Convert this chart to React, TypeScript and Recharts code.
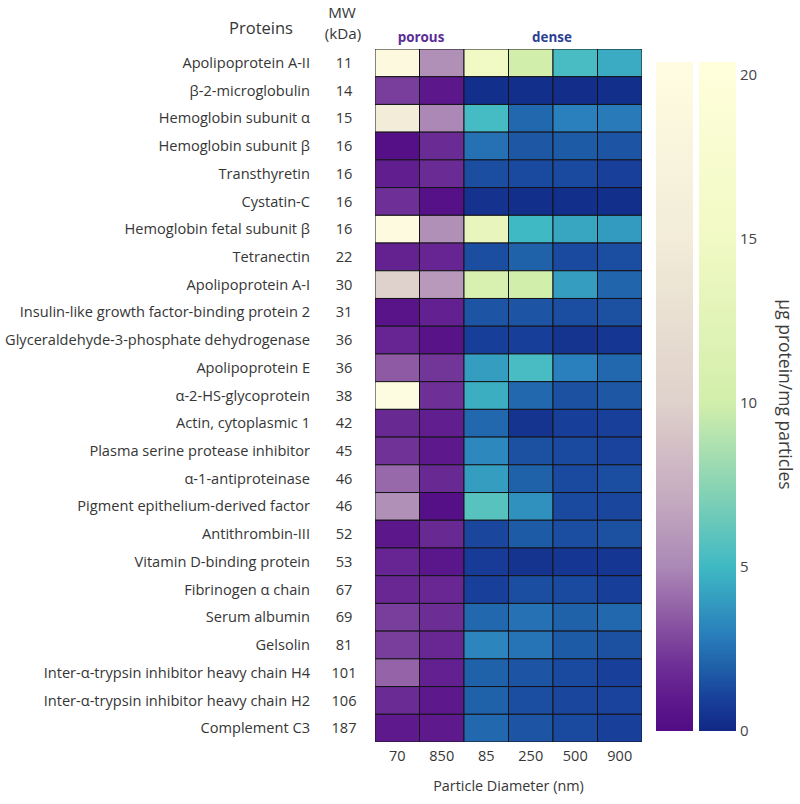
import { ScatterChart, Scatter, XAxis, YAxis, BarChart, Bar, Cell, Label, Customized } from 'recharts';

const proteins = [
  'Apolipoprotein A-II',
  'β-2-microglobulin',
  'Hemoglobin subunit α',
  'Hemoglobin subunit β',
  'Transthyretin',
  'Cystatin-C',
  'Hemoglobin fetal subunit β',
  'Tetranectin',
  'Apolipoprotein A-I',
  'Insulin-like growth factor-binding protein 2',
  'Glyceraldehyde-3-phosphate dehydrogenase',
  'Apolipoprotein E',
  'α-2-HS-glycoprotein',
  'Actin, cytoplasmic 1',
  'Plasma serine protease inhibitor',
  'α-1-antiproteinase',
  'Pigment epithelium-derived factor',
  'Antithrombin-III',
  'Vitamin D-binding protein',
  'Fibrinogen α chain',
  'Serum albumin',
  'Gelsolin',
  'Inter-α-trypsin inhibitor heavy chain H4',
  'Inter-α-trypsin inhibitor heavy chain H2',
  'Complement C3',
];
const mw = [11, 14, 15, 16, 16, 16, 16, 22, 30, 31, 36, 36, 38, 42, 45, 46, 46, 52, 53, 67, 69, 81, 101, 106, 187];
const diameters = ['70', '850', '85', '250', '500', '900'];

// µg protein / mg particles, one array per particle type
const porous70 = [19, 2.5, 15, 0.3, 1.2, 2.0, 19.5, 1.4, 10, 0.6, 1.5, 3.5, 20, 1.7, 2.1, 4.0, 5.5, 0.8, 1.5, 1.6, 2.5, 2.5, 3.8, 1.8, 1.0];
const porous850 = [5.5, 0.8, 5, 1.8, 1.8, 0.4, 5.5, 1.5, 6, 1.3, 0.5, 2.2, 2.0, 1.2, 0.9, 1.7, 0.3, 1.7, 0.7, 1.6, 1.9, 1.6, 1.3, 0.9, 1.0];
const dense85 = [15, 0.3, 5.2, 2.5, 1.4, 0.4, 13.5, 1.4, 11, 1.6, 0.9, 4.0, 4.6, 2.2, 3.3, 4.0, 5.8, 1.2, 0.8, 1.0, 2.2, 3.2, 2.0, 2.0, 2.2];
const dense250 = [10, 0.3, 2.2, 1.7, 1.3, 0.3, 5, 2.0, 10, 1.6, 0.9, 5.3, 2.2, 0.5, 1.5, 2.0, 3.6, 1.8, 0.5, 1.4, 2.5, 2.6, 1.6, 1.4, 1.6];
const dense500 = [5.3, 0.2, 3, 1.8, 1.3, 0.3, 4.3, 1.3, 4.0, 1.4, 0.5, 3.0, 1.5, 0.9, 1.3, 1.3, 1.3, 1.4, 0.6, 1.3, 2.0, 1.8, 1.3, 1.2, 1.3];
const dense900 = [4.5, 0.3, 2.8, 1.6, 1.0, 0.3, 3.9, 1.4, 2.1, 1.5, 0.6, 2.2, 1.7, 1.0, 1.1, 1.4, 1.2, 1.5, 0.6, 0.9, 2.2, 1.5, 1.0, 1.1, 1.0];
const columns = [porous70, porous850, dense85, dense250, dense500, dense900];

const cbTicks = [0, 5, 10, 15, 20];
const CB_MAX = 20.4;

// colour maps: [value, colour]
const purpleStops: [number, string][] = [
  [0, '#520b85'], [1, '#5e1a8d'], [2, '#6e2f96'], [3.5, '#8e5aa4'], [5, '#ab88b6'],
  [7, '#c4a9bf'], [10, '#dfd1cb'], [15, '#f2ecd8'], [20.4, '#fffde1'],
];
const blueStops: [number, string][] = [
  [0, '#112886'], [1, '#18409a'], [2, '#2062aa'], [3, '#2a80bc'], [5, '#3fb9c4'],
  [7, '#7ccfb6'], [10, '#d2eeab'], [15, '#f1f9c4'], [20.4, '#ffffdc'],
];

const hex = (c: string) => [1, 3, 5].map((i) => parseInt(c.slice(i, i + 2), 16));
function colorAt(stops: [number, string][], v: number) {
  if (v <= stops[0][0]) return stops[0][1];
  for (let i = 1; i < stops.length; i++) {
    if (v <= stops[i][0]) {
      const [v0, c0] = stops[i - 1];
      const [v1, c1] = stops[i];
      const t = (v - v0) / (v1 - v0);
      const a = hex(c0);
      const b = hex(c1);
      return `rgb(${a.map((x, k) => Math.round(x + (b[k] - x) * t)).join(',')})`;
    }
  }
  return stops[stops.length - 1][1];
}

const cells = columns.flatMap((col, c) =>
  col.map((v, r) => ({ x: c, y: r, v, porous: c < 2 }))
);

const W = 800;
const H = 804;
const PLOT = { left: 375, top: 49, right: 642, bottom: 742 };
const CELL_W = (PLOT.right - PLOT.left) / diameters.length;
const CELL_H = (PLOT.bottom - PLOT.top) / proteins.length;
const FONT = '"Open Sans", sans-serif';

const HeatCell = (props: any) => {
  const { cx, cy, payload } = props;
  return (
    <rect
      x={cx - CELL_W / 2}
      y={cy - CELL_H / 2}
      width={CELL_W}
      height={CELL_H}
      fill={colorAt(payload.porous ? purpleStops : blueStops, payload.v)}
      stroke="#141418"
      strokeWidth={1}
    />
  );
};

const ProteinTick = (props: any) => {
  const { y, payload } = props;
  const i = payload.value;
  return (
    <g>
      <text x={PLOT.left - 65} y={y} dy="0.35em" textAnchor="end" fontSize={14.6} fill="#363636" fontFamily={FONT}>
        {proteins[i]}
      </text>
      <text x={PLOT.left - 31} y={y} dy="0.35em" textAnchor="middle" fontSize={14.6} fill="#363636" fontFamily={FONT}>
        {mw[i]}
      </text>
    </g>
  );
};

const Headers = () => (
  <g fontFamily={FONT}>
    <text x={261} y={28} dy="0.35em" textAnchor="middle" fontSize={16.5} fill="#363636">Proteins</text>
    <text x={342} y={13} dy="0.35em" textAnchor="middle" fontSize={15.2} fill="#363636">MW</text>
    <text x={343} y={34} dy="0.35em" textAnchor="middle" fontSize={15.2} fill="#363636">(kDa)</text>
    <text x={421} y={37} dy="0.35em" textAnchor="middle" fontSize={13.4} fontWeight="bold" fill="#5a2d96">porous</text>
    <text x={552} y={37} dy="0.35em" textAnchor="middle" fontSize={13.4} fontWeight="bold" fill="#2d3f94">dense</text>
  </g>
);

const CbLabel = (props: any) => {
  const { viewBox } = props;
  const x = viewBox.x + 47;
  const y = viewBox.y + viewBox.height / 2 - 2;
  return (
    <text x={x} y={y} textAnchor="middle" dominantBaseline="central" transform={`rotate(90 ${x} ${y})`} fontSize={17.5} fill="#3c3c3c" fontFamily={FONT}>
      μg protein/mg particles
    </text>
  );
};

const cbData = [
  { name: 'porous', value: CB_MAX },
  { name: 'dense', value: CB_MAX },
];

export default function App() {
  return (
    <div style={{ position: 'absolute', left: 0, top: 0, width: W, height: H, background: '#fff' }}>
      <div style={{ position: 'absolute', left: 0, top: 0 }}>
        <ScatterChart
          width={W}
          height={H}
          margin={{ top: PLOT.top, right: W - PLOT.right, bottom: H - PLOT.bottom - 50, left: PLOT.left - 360 }}
        >
          <XAxis
            type="number"
            dataKey="x"
            domain={[-0.5, diameters.length - 0.5]}
            ticks={diameters.map((_, i) => i)}
            tickFormatter={(i: number) => diameters[i]}
            interval={0}
            height={50}
            tickLine={false}
            axisLine={false}
            tickSize={0}
            tickMargin={9}
            tick={{ fontSize: 14.5, fill: '#363636', fontFamily: FONT }}
            allowDataOverflow
          >
            <Label value="Particle Diameter (nm)" position="insideBottom" offset={1} style={{ fontSize: 14.4, fill: '#363636', fontFamily: FONT }} />
          </XAxis>
          <YAxis
            type="number"
            dataKey="y"
            domain={[-0.5, proteins.length - 0.5]}
            ticks={proteins.map((_, i) => i)}
            interval={0}
            reversed
            width={360}
            tickLine={false}
            axisLine={false}
            tick={<ProteinTick />}
            allowDataOverflow
          />
          <Scatter data={cells} shape={HeatCell} isAnimationActive={false} />
          <Customized component={Headers} />
        </ScatterChart>
      </div>
      <div style={{ position: 'absolute', left: 640, top: 0 }}>
        <BarChart
          width={160}
          height={H}
          data={cbData}
          margin={{ top: 62, right: 0, bottom: H - 731, left: 13 }}
          barSize={37}
          barCategoryGap={0}
        >
          <defs>
            <linearGradient id="gPorous" x1="0" y1="0" x2="0" y2="1">
              {[...purpleStops].reverse().map(([v, c]) => (
                <stop key={v} offset={1 - v / CB_MAX} stopColor={c} />
              ))}
            </linearGradient>
            <linearGradient id="gDense" x1="0" y1="0" x2="0" y2="1">
              {[...blueStops].reverse().map(([v, c]) => (
                <stop key={v} offset={1 - v / CB_MAX} stopColor={c} />
              ))}
            </linearGradient>
          </defs>
          <XAxis dataKey="name" hide />
          <YAxis
            orientation="right"
            domain={[0, CB_MAX]}
            ticks={cbTicks}
            width={61}
            tickLine={false}
            axisLine={false}
            tickSize={0}
            tickMargin={1}
            tick={{ fontSize: 15, fill: '#444', fontFamily: FONT, textAnchor: 'start' }}
            allowDataOverflow
          >
            <Label content={<CbLabel />} />
          </YAxis>
          <Bar dataKey="value" isAnimationActive={false}>
            {cbData.map((d) => (
              <Cell key={d.name} fill={d.name === 'porous' ? 'url(#gPorous)' : 'url(#gDense)'} />
            ))}
          </Bar>
        </BarChart>
      </div>
    </div>
  );
}
